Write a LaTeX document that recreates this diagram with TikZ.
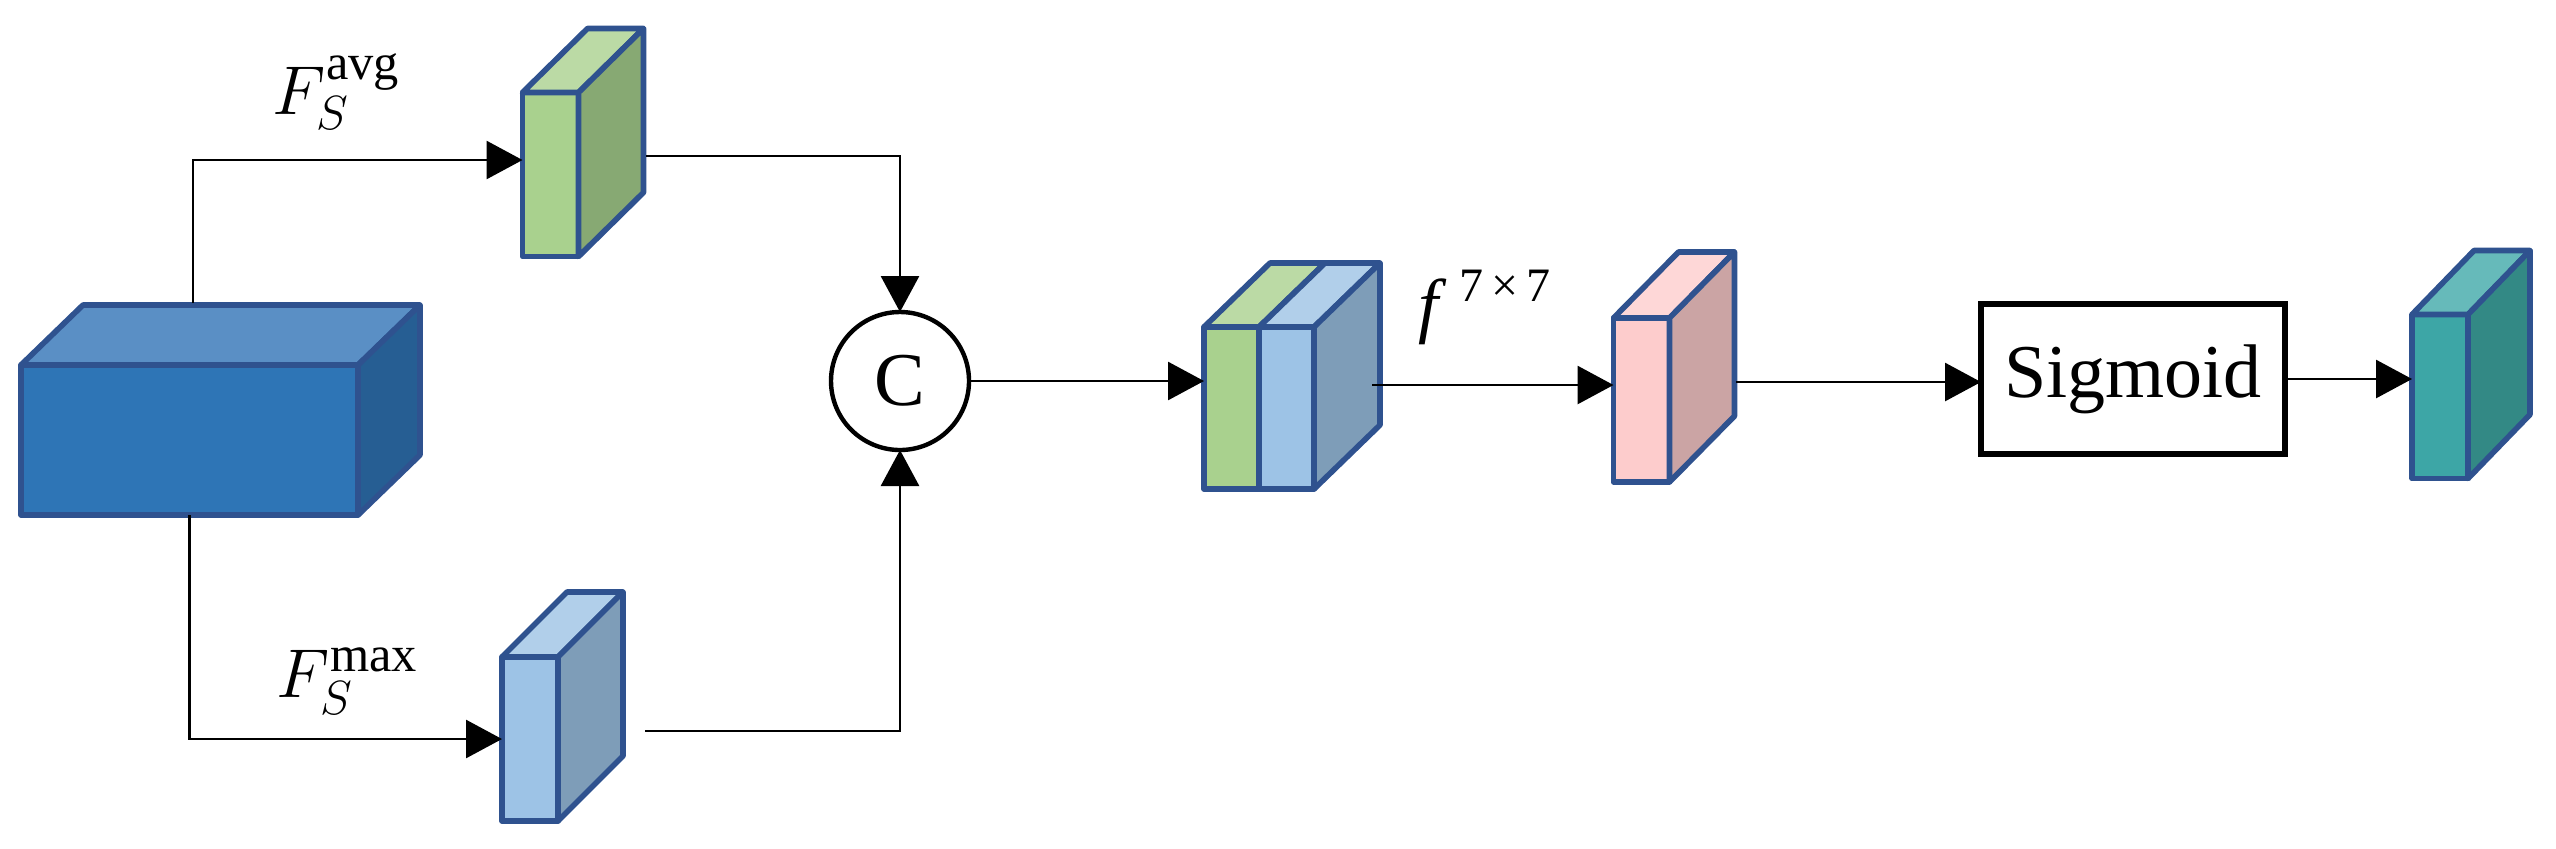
\documentclass[tikz,border=0pt]{standalone}
\usepackage{fontspec}
\setmainfont{Liberation Serif}
\usetikzlibrary{arrows.meta,calc}
\definecolor{bdc}{HTML}{2F528F}
\definecolor{inF}{HTML}{2E75B6}
\definecolor{inT}{HTML}{5A8FC5}
\definecolor{inS}{HTML}{265E93}
\definecolor{gF}{HTML}{A9D18E}
\definecolor{gT}{HTML}{BBDAA5}
\definecolor{gS}{HTML}{87A973}
\definecolor{bF}{HTML}{9DC3E6}
\definecolor{bT}{HTML}{B1CFEA}
\definecolor{bS}{HTML}{7E9DB8}
\definecolor{pF}{HTML}{FDCCCC}
\definecolor{pT}{HTML}{FED7D7}
\definecolor{pS}{HTML}{CBA4A4}
\definecolor{tF}{HTML}{3DA6A6}
\definecolor{tT}{HTML}{66BABA}
\definecolor{tS}{HTML}{338985}
\newcommand\cubetop[4]{%
  \draw[bd, fill=#4] (#1.north west) -- ++(#2,#3) -- ([shift={(#2,#3)}]#1.north east) -- (#1.north east) -- cycle;}
\newcommand\cubeside[4]{%
  \draw[bd, fill=#4] (#1.north east) -- ++(#2,#3) -- ([shift={(#2,#3)}]#1.south east) -- (#1.south east) -- cycle;}
\begin{document}
\begin{tikzpicture}[x=0.25pt,y=-0.25pt,
  bd/.style={draw=bdc, line width=1.4pt, line join=round},
  face/.style={rectangle, bd, inner sep=0pt, outer sep=0pt},
  slab/.style={face, minimum width=14pt, minimum height=41pt},
  arr/.style={draw=black, line width=0.7pt, -{Triangle[length=9pt,width=9.5pt]}},
  lbl/.style={inner sep=0pt, font=\fontsize{18}{20}\selectfont}
]
\useasboundingbox (0,0) rectangle (2556,848);

% input feature cuboid
\node[face, fill=inF, minimum width=84.25pt, minimum height=37.5pt] (in) at (189.5,440) {};
\cubetop{in}{62}{-60}{inT}
\cubeside{in}{62}{-60}{inS}

% avg pooled slab
\node[slab, fill=gF] (avg) at (550.5,174.5) {};
\cubetop{avg}{65}{-64}{gT}
\cubeside{avg}{65}{-64}{gS}

% max pooled slab
\node[slab, fill=bF] (max) at (530,739) {};
\cubetop{max}{65}{-65}{bT}
\cubeside{max}{65}{-65}{bS}

% concatenation
\node[circle, draw, line width=1.1pt, minimum size=34.5pt, inner sep=0pt, outer sep=0pt, font=\fontsize{19}{20}\selectfont] (C) at (900,381) {C};

% concatenated block
\node[face, fill=gF, minimum width=13.75pt, minimum height=40.5pt] (catA) at (1231.5,408) {};
\node[face, fill=bF, minimum width=13.75pt, minimum height=40.5pt] (catB) at (1286.5,408) {};
\cubetop{catA}{66}{-64}{gT}
\cubetop{catB}{66}{-64}{bT}
\cubeside{catB}{66}{-64}{bS}

% conv output
\node[slab, fill=pF] (pink) at (1641.5,400) {};
\cubetop{pink}{65}{-66}{pT}
\cubeside{pink}{65}{-66}{pS}

% sigmoid
\node[rectangle, draw, line width=1.3pt, minimum width=76pt, minimum height=37.5pt, inner sep=0pt, outer sep=0pt, font=\fontsize{19}{20}\selectfont] (sig) at (2133,379) {Sigmoid};

% output slab
\node[slab, fill=tF] (teal) at (2440,396.5) {};
\cubetop{teal}{62}{-64}{tT}
\cubeside{teal}{62}{-64}{tS}

% labels
\node[lbl, anchor=base west] (lavg) at (272,114) {$F_S^{\mathrm{avg}}$};
\node[lbl, anchor=base west] (lmax) at (276,697) {$F_S^{\mathrm{max}}$};
\node[lbl, anchor=base west] (lf) at (1418,329) {\textit{f}\,\raisebox{7pt}{\fontsize{12}{13}\selectfont 7\,×\,7}};

% connector start points
\coordinate (inTop) at (193,303);
\coordinate (avgOut) at (646,156);
\coordinate (maxOut) at (645,731);
\coordinate (catOut) at (1372,385);
\coordinate (pinkOut) at (1736,382);

% connectors
\draw[arr] (inTop) |- (avg.west |- 0,160);
\draw[arr] (in.south) |- (max.west);
\draw[arr] (avgOut) -| (C.north);
\draw[arr] (maxOut) -| (C.south);
\draw[arr] (C.east) -- (catA.west |- C.east);
\draw[arr] (catOut) -- (pink.west |- catOut);
\draw[arr] (pinkOut) -- (sig.west |- pinkOut);
\draw[arr] (sig.east) -- (teal.west |- sig.east);
\end{tikzpicture}
\end{document}
